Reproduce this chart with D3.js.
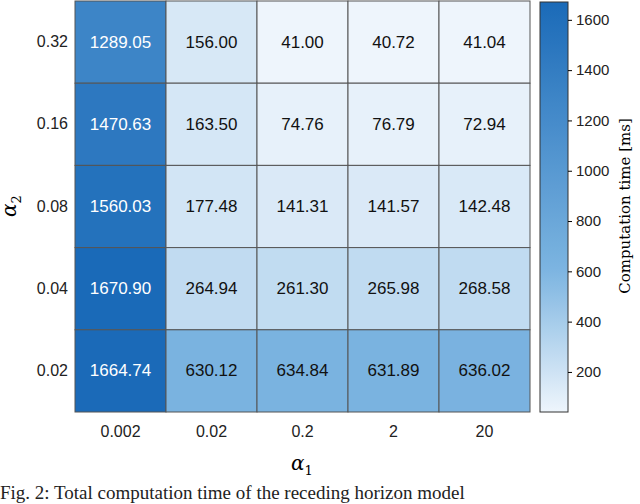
<!DOCTYPE html>
<html><head><meta charset="utf-8">
<script src="https://cdn.jsdelivr.net/npm/d3@7"></script>
<style>body{margin:0;background:#fff}</style></head>
<body><svg id="c" width="640" height="504"></svg>
<script>
const alpha1 = ["0.002","0.02","0.2","2","20"];
const alpha2 = ["0.32","0.16","0.08","0.04","0.02"];
const values = [
 [1289.05,156.00,41.00,40.72,41.04],
 [1470.63,163.50,74.76,76.79,72.94],
 [1560.03,177.48,141.31,141.57,142.48],
 [1670.90,264.94,261.30,265.98,268.58],
 [1664.74,630.12,634.84,631.89,636.02]
];
const cbTicks = [200,400,600,800,1000,1200,1400,1600];

const svg = d3.select("#c");
const L=75,R=530,T=1,B=412;
const x = d3.scaleBand().domain(alpha1).range([L,R]);
const y = d3.scaleBand().domain(alpha2).range([T,B]);
const vmin=d3.min(values.flat()), vmax=d3.max(values.flat());
const color = d3.scaleLinear().domain([vmin,600,vmax]).range(["#eef5fc","#7db5e1","#1a6ab8"]).interpolate(d3.interpolateRgb);

const cells=[];
values.forEach((r,i)=>r.forEach((v,j)=>cells.push({r:alpha2[i],c:alpha1[j],v})));
svg.selectAll("rect.cell").data(cells).join("rect")
 .attr("x",d=>x(d.c)).attr("y",d=>y(d.r)).attr("width",x.bandwidth()).attr("height",y.bandwidth())
 .attr("fill",d=>color(d.v)).attr("stroke","#555").attr("stroke-width",1);
svg.selectAll("text.v").data(cells).join("text")
 .attr("x",d=>x(d.c)+x.bandwidth()/2).attr("y",d=>y(d.r)+y.bandwidth()/2)
 .attr("text-anchor","middle").attr("dominant-baseline","central")
 .attr("font-family","Liberation Sans, Arial").attr("font-size",17)
 .attr("fill",d=>d.v>1000?"#fff":"#111").text(d=>d.v.toFixed(2));

const ff="Liberation Sans, Arial";
svg.append("g").attr("transform",`translate(0,${B})`).call(d3.axisBottom(x).tickSize(0).tickPadding(14))
 .call(g=>{g.select(".domain").remove();g.selectAll("text").attr("font-size",16).attr("font-family",ff).attr("fill","#222");});
svg.append("g").attr("transform",`translate(${L},0)`).call(d3.axisLeft(y).tickSize(0).tickPadding(7))
 .call(g=>{g.select(".domain").remove();g.selectAll("text").attr("font-size",16).attr("font-family",ff).attr("fill","#222");});

svg.append("text").attr("x",302).attr("y",470).attr("text-anchor","middle")
 .attr("font-family","DejaVu Serif, serif").attr("font-size",20).attr("font-style","italic")
 .html('α<tspan font-size="13" dy="5" font-style="normal">1</tspan>');
svg.append("text").attr("transform","translate(16,206) rotate(-90)").attr("text-anchor","middle")
 .attr("font-family","DejaVu Serif, serif").attr("font-size",20).attr("font-style","italic")
 .html('α<tspan font-size="13" dy="5" font-style="normal">2</tspan>');

// colorbar
const cbX=540,cbW=28;
const cy=d3.scaleLinear().domain([vmin,vmax]).range([B,T+1]);
const defs=svg.append("defs");
const gr=defs.append("linearGradient").attr("id","g").attr("x1",0).attr("x2",0).attr("y1",1).attr("y2",0);
d3.range(0,1.001,0.05).forEach(t=>gr.append("stop").attr("offset",t).attr("stop-color",color(vmin+t*(vmax-vmin))));
svg.append("rect").attr("x",cbX).attr("y",T+1).attr("width",cbW).attr("height",B-T-1).attr("fill","url(#g)").attr("stroke","#333");
svg.append("g").attr("transform",`translate(${cbX+cbW},0)`).call(d3.axisRight(cy).tickValues(cbTicks).tickFormat(d3.format("d")).tickSize(4).tickPadding(4))
 .call(g=>{g.select(".domain").remove();g.selectAll("text").attr("font-size",15).attr("font-family",ff).attr("fill","#222");});
svg.append("text").attr("transform","translate(630,206) rotate(-90)").attr("text-anchor","middle")
 .attr("font-family","DejaVu Serif, serif").attr("font-size",15).text("Computation time [ms]");

svg.append("text").attr("x",0).attr("y",499).attr("font-family","Liberation Serif, serif").attr("font-size",19).attr("fill","#222")
 .text("Fig. 2: Total computation time of the receding horizon model");
</script></body></html>
